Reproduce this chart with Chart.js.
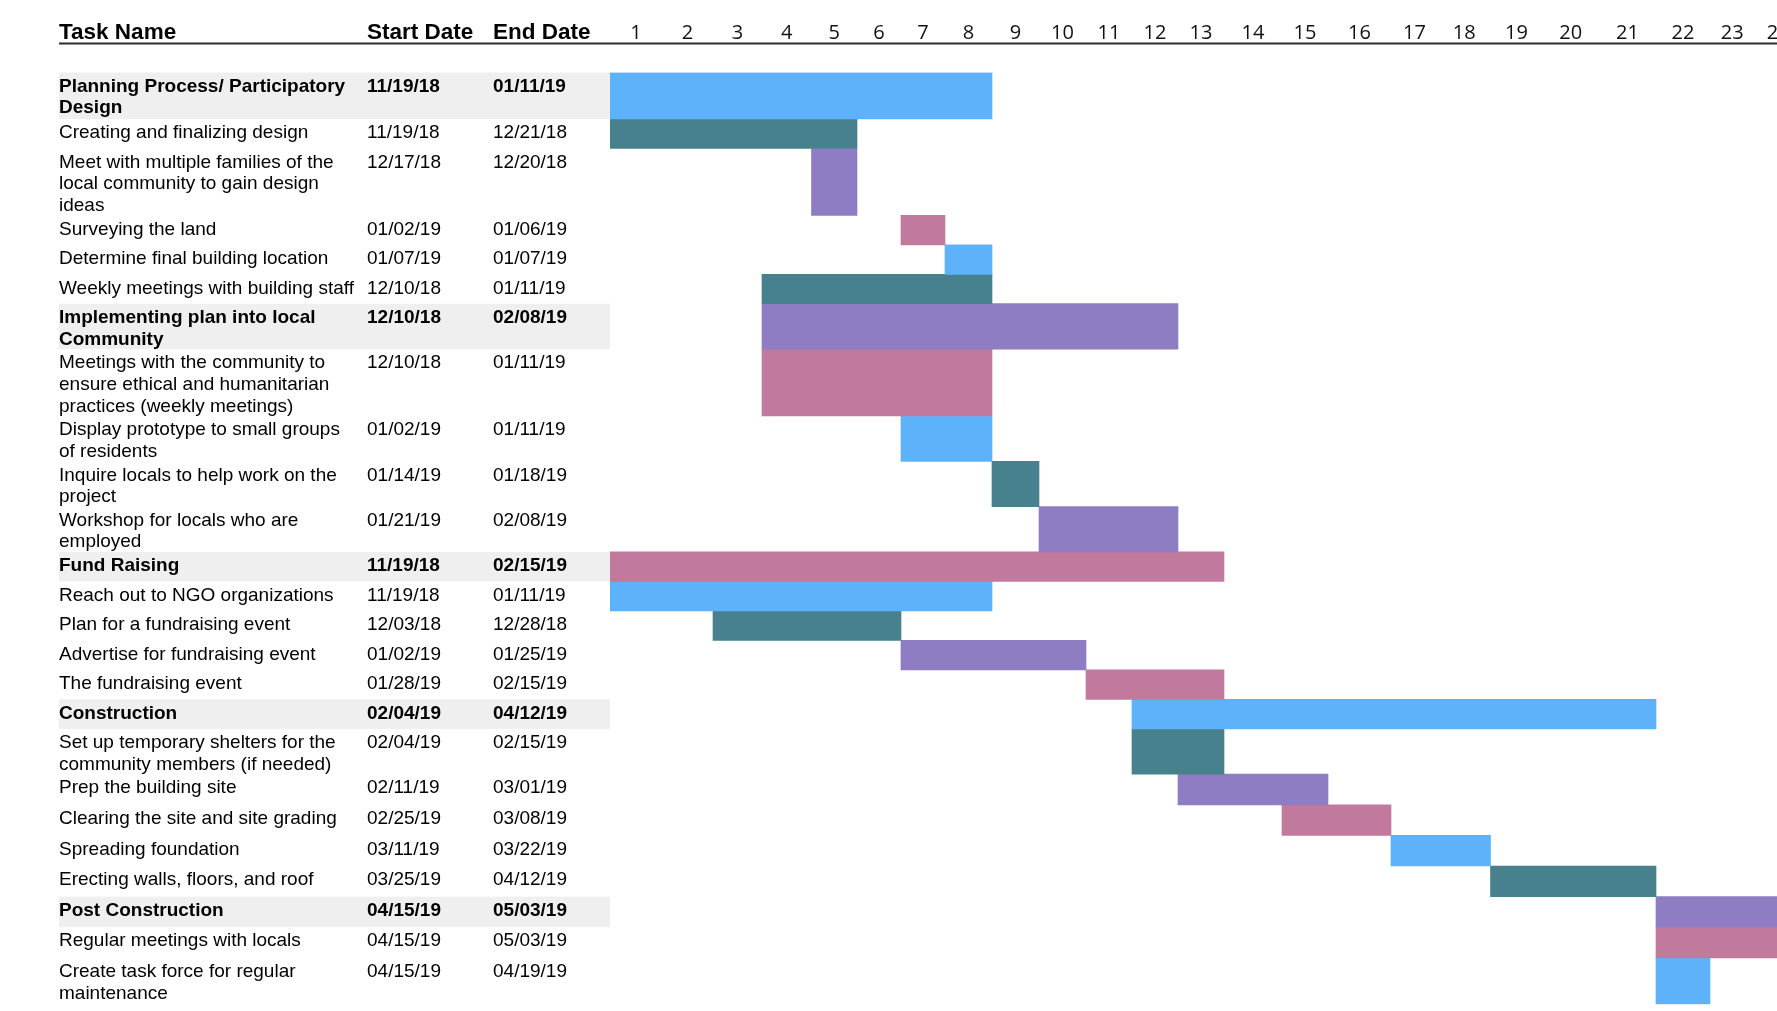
<!DOCTYPE html>
<html>
<head>
<meta charset="utf-8">
<title>Project Timeline</title>
<script src="https://cdn.jsdelivr.net/npm/chart.js@4.4.1/dist/chart.umd.min.js"></script>
<style>
  html, body { margin: 0; padding: 0; background: #fff; overflow: hidden; }
  #wrap { position: relative; width: 1777px; height: 1011px; overflow: hidden; }
  canvas { display: block; }
</style>
</head>
<body>
<div id="wrap"><canvas id="gantt" width="1810" height="1011"></canvas></div>
<script>
// ---- Task table ----
const taskNames = [
  'Planning Process/ Participatory\nDesign',
  'Creating and finalizing design',
  'Meet with multiple families of the\nlocal community to gain design\nideas',
  'Surveying the land',
  'Determine final building location',
  'Weekly meetings with building staff',
  'Implementing plan into local\nCommunity',
  'Meetings with the community to\nensure ethical and humanitarian\npractices (weekly meetings)',
  'Display prototype to small groups\nof residents',
  'Inquire locals to help work on the\nproject',
  'Workshop for locals who are\nemployed',
  'Fund Raising',
  'Reach out to NGO organizations',
  'Plan for a fundraising event',
  'Advertise for fundraising event',
  'The fundraising event',
  'Construction',
  'Set up temporary shelters for the\ncommunity members (if needed)',
  'Prep the building site',
  'Clearing the site and site grading',
  'Spreading foundation',
  'Erecting walls, floors, and roof',
  'Post Construction',
  'Regular meetings with locals',
  'Create task force for regular\nmaintenance'
];
const startDates = [
  '11/19/18', '11/19/18', '12/17/18', '01/02/19', '01/07/19', '12/10/18',
  '12/10/18', '12/10/18', '01/02/19', '01/14/19', '01/21/19',
  '11/19/18', '11/19/18', '12/03/18', '01/02/19', '01/28/19',
  '02/04/19', '02/04/19', '02/11/19', '02/25/19', '03/11/19', '03/25/19',
  '04/15/19', '04/15/19', '04/15/19'
];
const endDates = [
  '01/11/19', '12/21/18', '12/20/18', '01/06/19', '01/07/19', '01/11/19',
  '02/08/19', '01/11/19', '01/11/19', '01/18/19', '02/08/19',
  '02/15/19', '01/11/19', '12/28/18', '01/25/19', '02/15/19',
  '04/12/19', '02/15/19', '03/01/19', '03/08/19', '03/22/19', '04/12/19',
  '05/03/19', '05/03/19', '04/19/19'
];
// rows that head a project phase (bold, shaded)
const phaseRows = [0, 6, 11, 16, 22];
const columnHeaders = ['Task Name', 'Start Date', 'End Date'];
const weekLabels = ['1', '2', '3', '4', '5', '6', '7', '8', '9', '10', '11', '12',
  '13', '14', '15', '16', '17', '18', '19', '20', '21', '22', '23', '24'];
const projectStart = '11/19/18';

// ---- Layout & style ----
const TABLE_LEFT = 59;
const COLUMN_X = [59, 367, 493];
const GANTT_LEFT = 610;
const HEADER_H = 72.5;
const CANVAS_H = 1011;
// sheet column widths of the week columns (px)
const weekColumnWidths = [52, 51, 49, 49.5, 45.5, 44, 44, 47, 47, 47, 46, 46,
  46, 58, 46, 63, 47, 52.5, 52, 56.5, 57, 54, 44.5, 47.5];
// sheet row heights of the task rows (px)
const sheetRowHeights = [46.5, 29.5, 66.8, 29.5, 29.5, 29.4, 45.4, 66.9, 45.3, 45.3,
  45.3, 29.5, 29.5, 29.5, 29.5, 29.5, 29.5, 45.3, 30.6, 30.6, 30.6, 30.6, 30.6, 30.6, 46.5];
const palette = ['#5eb2f9', '#47818e', '#8e7dc2', '#c17a9e'];
const BAND_COLOR = '#efefef';
const TEXT_FONT = '"Liberation Sans", Arial, sans-serif';
const FIRST_BASELINE = 19.2;
const LINE_H = 21.6;

// ---- Derived values ----
function parseDate(s) {
  const [m, d, y] = s.split('/').map(Number);
  return Date.UTC(2000 + y, m - 1, d);
}
const DAY = 86400000;
const weekOf = s => Math.floor((parseDate(s) - parseDate(projectStart)) / DAY / 7);

const taskLines = taskNames.map(t => t.split('\n'));
const rowTops = [];
let acc = 0;
sheetRowHeights.forEach(h => { rowTops.push(acc); acc += h; });
const totalHeight = acc;

// one dataset per task so every bar fills its own row
const datasets = taskNames.map((name, i) => ({
  label: name.replace(/\n/g, ' '),
  stack: 'rows',
  data: [{
    x: [weekOf(startDates[i]), weekOf(endDates[i]) + 1],
    y: rowTops[i] + sheetRowHeights[i] / 2
  }],
  backgroundColor: palette[i % palette.length],
  barThickness: sheetRowHeights[i],
  borderWidth: 0
}));

// Linear scale whose unit steps (weeks) follow the sheet's column widths
class WeekColumnScale extends Chart.LinearScale {
  static id = 'weekColumns';
  configure() {
    super.configure();
    this._edges = [0];
    weekColumnWidths.forEach(w => this._edges.push(this._edges[this._edges.length - 1] + w));
  }
  _toUnits(v) {
    const e = this._edges;
    const n = e.length - 1;
    const k = Math.max(0, Math.min(n - 1, Math.floor(v)));
    return e[k] + (v - k) * (e[k + 1] - e[k]);
  }
  getPixelForValue(value) {
    if (value === null || value === undefined || isNaN(value)) return NaN;
    const u0 = this._toUnits(this.min);
    const u1 = this._toUnits(this.max);
    return this.getPixelForDecimal((this._toUnits(value) - u0) / (u1 - u0));
  }
  getValueForPixel(pixel) {
    const u0 = this._toUnits(this.min);
    const u1 = this._toUnits(this.max);
    const u = u0 + this.getDecimalForPixel(pixel) * (u1 - u0);
    const e = this._edges;
    for (let k = 0; k < e.length - 1; k++) {
      if (u <= e[k + 1] || k === e.length - 2) return k + (u - e[k]) / (e[k + 1] - e[k]);
    }
    return 0;
  }
}
Chart.register(WeekColumnScale);

// Task / date table drawn beside the bars, aligned on the row scale
const taskTable = {
  id: 'taskTable',
  beforeDatasetsDraw(chart) {
    const { ctx, scales: { y }, chartArea } = chart;
    ctx.save();
    ctx.fillStyle = '#000';
    ctx.textBaseline = 'alphabetic';
    ctx.textAlign = 'left';
    ctx.font = 'bold 22.5px ' + TEXT_FONT;
    columnHeaders.forEach((h, c) => ctx.fillText(h, COLUMN_X[c], 38.5));

    ctx.strokeStyle = '#2b2b2b';
    ctx.lineWidth = 2;
    ctx.beginPath();
    ctx.moveTo(TABLE_LEFT, 43.5);
    ctx.lineTo(chart.width, 43.5);
    ctx.stroke();

    taskLines.forEach((lines, i) => {
      const top = y.getPixelForValue(rowTops[i]);
      const bottom = y.getPixelForValue(rowTops[i] + sheetRowHeights[i]);
      const isPhase = phaseRows.includes(i);
      if (isPhase) {
        ctx.fillStyle = BAND_COLOR;
        ctx.fillRect(TABLE_LEFT, top, chartArea.left - TABLE_LEFT, bottom - top);
      }
      ctx.fillStyle = '#000';
      ctx.font = (isPhase ? 'bold ' : '') + '19px ' + TEXT_FONT;
      lines.forEach((line, k) => ctx.fillText(line, COLUMN_X[0], top + FIRST_BASELINE + k * LINE_H));
      ctx.fillText(startDates[i], COLUMN_X[1], top + FIRST_BASELINE);
      ctx.fillText(endDates[i], COLUMN_X[2], top + FIRST_BASELINE);
    });
    ctx.restore();
  }
};

new Chart(document.getElementById('gantt'), {
  type: 'bar',
  data: { datasets },
  options: {
    indexAxis: 'y',
    responsive: false,
    animation: false,
    events: [],
    layout: {
      padding: { left: GANTT_LEFT, right: 8, top: 0, bottom: CANVAS_H - HEADER_H - totalHeight }
    },
    plugins: { legend: { display: false }, tooltip: { enabled: false } },
    scales: {
      x: {
        type: 'weekColumns',
        position: 'top',
        min: 0,
        max: weekLabels.length,
        stacked: false,
        grid: { display: false, drawTicks: false },
        border: { display: false },
        afterBuildTicks(axis) {
          axis.ticks = weekLabels.map((_, i) => ({ value: i + 0.5 }));
        },
        afterFit(axis) {
          axis.height = HEADER_H;
          axis.paddingLeft = 0;
          axis.paddingRight = 0;
        },
        ticks: {
          autoSkip: false,
          maxRotation: 0,
          minRotation: 0,
          padding: 27.5,
          color: '#111',
          font: { family: '"Open Sans", sans-serif', size: 20 },
          callback: (v, i) => weekLabels[i]
        }
      },
      y: {
        type: 'linear',
        display: false,
        min: 0,
        max: totalHeight,
        reverse: true,
        offset: false
      }
    }
  },
  plugins: [taskTable]
});
</script>
</body>
</html>
